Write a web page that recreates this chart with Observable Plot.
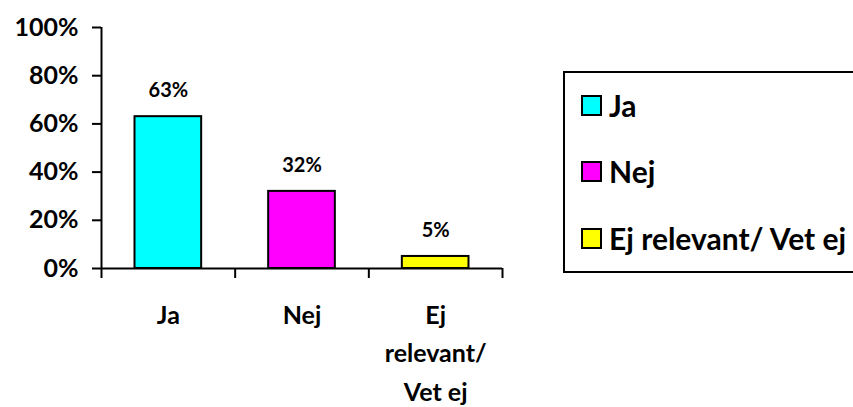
<!DOCTYPE html>
<html>
<head>
<meta charset="utf-8">
<script src="https://cdn.jsdelivr.net/npm/d3@7"></script>
<script src="https://cdn.jsdelivr.net/npm/@observablehq/plot@0.6"></script>
<style>
  html, body { margin: 0; padding: 0; background: #fff; }
  #wrap { position: relative; width: 853px; height: 407px; overflow: hidden; font-family: Lato, "Open Sans", sans-serif; }
  #legend { position: absolute; left: 563px; top: 71px; width: 320px; height: 202px; border: 2px solid #000; box-sizing: border-box; }
  .row { position: absolute; left: 16px; display: flex; align-items: center; font-weight: bold; font-size: 30px; color: #000; white-space: nowrap; }
  .sw { width: 17px; height: 17px; border: 2px solid #000; margin-right: 7px; }
</style>
</head>
<body>
<div id="wrap"></div>
<script>
const categories = ["Ja", "Nej", "Ej relevant/ Vet ej"];
const axisLabels = ["Ja", "Nej", "Ej\nrelevant/\nVet ej"];
const values = [0.63, 0.32, 0.05];
const colors = ["#00FFFF", "#FF00FF", "#FFFF00"];
const yTicks = [0, 0.2, 0.4, 0.6, 0.8, 1];

const data = categories.map((c, i) => ({cat: c, label: axisLabels[i], value: values[i], i}));
const pct = d => Math.round(d * 100) + "%";

const chart = Plot.plot({
  width: 853,
  height: 407,
  marginLeft: 101,
  marginRight: 351,
  marginTop: 27,
  marginBottom: 139,
  x: {domain: [0, categories.length]},
  y: {domain: [0, 1]},
  color: {domain: categories, range: colors},
  style: {fontFamily: "Lato, 'Open Sans', sans-serif", color: "#000", background: "#fff"},
  marks: [
    Plot.axisY({ticks: yTicks, tickSize: 9, tickPadding: 14, tickFormat: pct, fontSize: 25, fontWeight: "bold", strokeWidth: 2, label: null}),
    Plot.axisX({ticks: [0, 1, 2, 3], tickSize: 10, tickFormat: () => "", strokeWidth: 2, label: null}),
    Plot.rectY(data, {x1: "i", x2: d => d.i + 1, y: "value", fill: "cat", stroke: "#000", strokeWidth: 2, insetLeft: 33.5, insetRight: 33.5}),
    Plot.ruleX([0], {strokeWidth: 2}),
    Plot.ruleY([0], {strokeWidth: 2}),
    Plot.text(data, {x: d => d.i + 0.5, y: "value", text: d => pct(d.value), dy: -26, fontSize: 20, fontWeight: "bold"}),
    Plot.text(data, {x: d => d.i + 0.5, y: () => 0, text: "label", lineAnchor: "top", dy: 28, fontSize: 25, fontWeight: "bold", lineHeight: 1.54})
  ]
});

const wrap = document.getElementById("wrap");
wrap.appendChild(chart);

const legend = document.createElement("div");
legend.id = "legend";
const rowCenters = [32, 98, 165];
categories.forEach((c, i) => {
  const row = document.createElement("div");
  row.className = "row";
  row.style.top = (rowCenters[i] - 18) + "px";
  row.style.height = "36px";
  const sw = document.createElement("div");
  sw.className = "sw";
  sw.style.background = colors[i];
  const t = document.createElement("span");
  t.textContent = c;
  row.appendChild(sw);
  row.appendChild(t);
  legend.appendChild(row);
});
wrap.appendChild(legend);
</script>
</body>
</html>
